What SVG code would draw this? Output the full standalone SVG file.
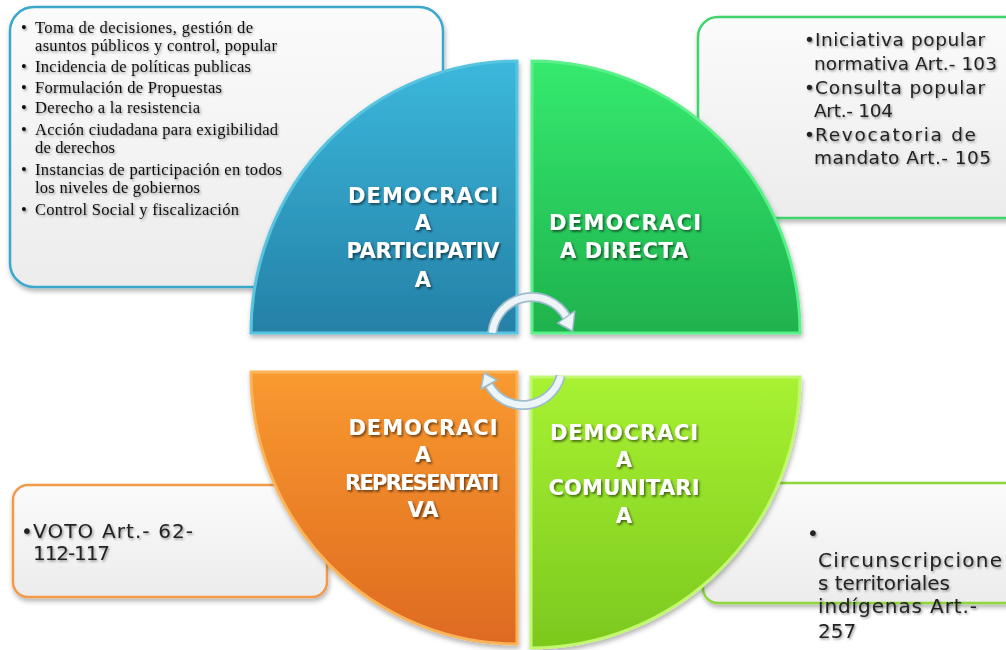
<svg xmlns="http://www.w3.org/2000/svg" width="1006" height="650" viewBox="0 0 1006 650">
<defs>
<linearGradient id="boxg" x1="0" y1="0" x2="0" y2="1"><stop offset="0" stop-color="#fbfbfb"/><stop offset="1" stop-color="#ececec"/></linearGradient>
<linearGradient id="gBlue" x1="0" y1="0" x2="0" y2="1"><stop offset="0" stop-color="#3bb8dc"/><stop offset="1" stop-color="#2580a6"/></linearGradient>
<linearGradient id="gGreen" x1="0" y1="0" x2="0" y2="1"><stop offset="0" stop-color="#35ea6e"/><stop offset="1" stop-color="#1fb24e"/></linearGradient>
<linearGradient id="gOrange" x1="0" y1="0" x2="0" y2="1"><stop offset="0" stop-color="#f99a30"/><stop offset="1" stop-color="#de6a20"/></linearGradient>
<linearGradient id="gLime" x1="0" y1="0" x2="0" y2="1"><stop offset="0" stop-color="#a8f232"/><stop offset="1" stop-color="#7cc81e"/></linearGradient>
<filter id="bs" x="-10%" y="-10%" width="120%" height="130%"><feDropShadow dx="1" dy="3" stdDeviation="2.5" flood-color="#000" flood-opacity="0.3"/></filter>
<filter id="ts" x="-10%" y="-30%" width="120%" height="160%"><feDropShadow dx="1.2" dy="1.5" stdDeviation="0.8" flood-color="#000" flood-opacity="0.4"/></filter>
<filter id="ls" x="-10%" y="-30%" width="120%" height="160%"><feDropShadow dx="1.5" dy="1.8" stdDeviation="1" flood-color="#000" flood-opacity="0.55"/></filter>
<style>
.box{fill:url(#boxg);stroke-width:2.5;filter:url(#bs)}
.serif{font-family:"Liberation Serif","Times New Roman",serif;font-size:16.5px;fill:#111;filter:url(#ts)}
.sans{font-family:"DejaVu Sans","Liberation Sans",sans-serif;font-size:18.5px;fill:#222;filter:url(#ts)}
.sans18{font-family:"DejaVu Sans","Liberation Sans",sans-serif;font-size:20px;fill:#222;filter:url(#ts)}
.lbl{font-family:"DejaVu Sans","Liberation Sans",sans-serif;font-size:21px;font-weight:bold;fill:#fff;text-anchor:middle;filter:url(#ls)}
.q{filter:url(#bs);stroke-width:3}
.arc-o{fill:none;stroke:#9fbccc;stroke-width:10;stroke-linecap:butt}
.arc-i{fill:none;stroke:#eef5f9;stroke-width:6.5;stroke-linecap:butt}
.head{fill:#eef5f9;stroke:#9fbccc;stroke-width:1.5;stroke-linejoin:round}
</style>
</defs>
<rect width="1006" height="650" fill="#fff"/>

<g id="box-participativa">
<rect class="box" x="10" y="7" width="433" height="280" rx="24" stroke="#3ba7cc"/>
<g class="serif">
<text x="21" y="33">•</text><text x="35" y="33" textLength="218" lengthAdjust="spacing">Toma de decisiones, gestión de</text>
<text x="35" y="51" textLength="242" lengthAdjust="spacing">asuntos públicos y control, popular</text>
<text x="21" y="72">•</text><text x="35" y="72" textLength="216" lengthAdjust="spacing">Incidencia de políticas publicas</text>
<text x="21" y="93">•</text><text x="35" y="93" textLength="187" lengthAdjust="spacing">Formulación de Propuestas</text>
<text x="21" y="113">•</text><text x="35" y="113" textLength="165" lengthAdjust="spacing">Derecho a la resistencia</text>
<text x="21" y="135">•</text><text x="35" y="135" textLength="243" lengthAdjust="spacing">Acción ciudadana para exigibilidad</text>
<text x="35" y="153" textLength="80" lengthAdjust="spacing">de derechos</text>
<text x="21" y="175">•</text><text x="35" y="175" textLength="247" lengthAdjust="spacing">Instancias de participación en todos</text>
<text x="35" y="193" textLength="165" lengthAdjust="spacing">los niveles de gobiernos</text>
<text x="21" y="215">•</text><text x="35" y="215" textLength="204" lengthAdjust="spacing">Control Social y fiscalización</text>
</g>
</g>

<g id="box-directa">
<rect class="box" x="698" y="17" width="330" height="201" rx="20" stroke="#3fd46c"/>
<g class="sans">
<text x="804" y="46">•</text><text x="815" y="46" textLength="170" lengthAdjust="spacing">Iniciativa popular</text>
<text x="814" y="70" textLength="183" lengthAdjust="spacing">normativa Art.- 103</text>
<text x="804" y="94">•</text><text x="815" y="94" textLength="170" lengthAdjust="spacing">Consulta popular</text>
<text x="814" y="117" textLength="79" lengthAdjust="spacing">Art.- 104</text>
<text x="804" y="141">•</text><text x="815" y="141" textLength="161" lengthAdjust="spacing">Revocatoria de</text>
<text x="814" y="164" textLength="177" lengthAdjust="spacing">mandato Art.- 105</text>
</g>
</g>

<g id="box-representativa">
<rect class="box" x="13" y="485" width="314" height="112" rx="15" stroke="#f29a48"/>
<g class="sans18">
<text x="21" y="538">•</text><text x="33" y="538" textLength="160" lengthAdjust="spacing">VOTO Art.- 62-</text>
<text x="33" y="560" textLength="77" lengthAdjust="spacing">112-117</text>
</g>
</g>

<g id="box-comunitaria">
<rect class="box" x="703" y="483" width="330" height="120" rx="15" stroke="#8ed83a"/>
</g>

<g id="node-participativa">
<path class="q" d="M517,333 H251 A266,272 0 0 1 517,61 Z" fill="url(#gBlue)" stroke="#58c4e0"/>
<g class="lbl">
<text x="423" y="203" textLength="150" lengthAdjust="spacing">DEMOCRACI</text>
<text x="423" y="230">A</text>
<text x="423" y="258" textLength="153" lengthAdjust="spacing">PARTICIPATIV</text>
<text x="423" y="287">A</text>
</g>
</g>

<g id="node-directa">
<path class="q" d="M532,333 V61 A268,272 0 0 1 800,333 Z" fill="url(#gGreen)" stroke="#5cf08a"/>
<g class="lbl">
<text x="625" y="230" textLength="152" lengthAdjust="spacing">DEMOCRACI</text>
<text x="624" y="258" textLength="128" lengthAdjust="spacing">A DIRECTA</text>
</g>
</g>

<g id="node-representativa">
<path class="q" d="M517,372 H251 A266,272 0 0 0 517,644 Z" fill="url(#gOrange)" stroke="#fbb45a"/>
<g class="lbl">
<text x="423" y="435" textLength="149" lengthAdjust="spacing">DEMOCRACI</text>
<text x="423" y="462">A</text>
<text x="422" y="490" textLength="154" lengthAdjust="spacing">REPRESENTATI</text>
<text x="423" y="517">VA</text>
</g>
</g>

<g id="node-comunitaria">
<path class="q" d="M531,377 V648 A269,271 0 0 0 800,377 Z" fill="url(#gLime)" stroke="#c2f870"/>
<g class="lbl">
<text x="624" y="440" textLength="148" lengthAdjust="spacing">DEMOCRACI</text>
<text x="624" y="467">A</text>
<text x="624" y="495" textLength="151" lengthAdjust="spacing">COMUNITARI</text>
<text x="624" y="523">A</text>
</g>
</g>

<g id="box-comunitaria-text" class="sans18">
<text x="807" y="540">•</text>
<text x="818" y="567" textLength="184" lengthAdjust="spacing">Circunscripcione</text>
<text x="818" y="590" textLength="132" lengthAdjust="spacing">s territoriales</text>
<text x="818" y="613" textLength="159" lengthAdjust="spacing">indígenas Art.-</text>
<text x="818" y="638">257</text>
</g>

<g id="connectors">
<path class="arc-o" d="M492.2,332.8 A40,40 0 0 1 566.6,317"/>
<path class="arc-i" d="M492.2,332.8 A40,40 0 0 1 566.6,317"/>
<polygon class="head" points="574.8,311 557.8,323 572.5,331"/>
<path class="arc-o" d="M560.7,376 A39,39 0 0 1 489.2,385.5"/>
<path class="arc-i" d="M560.7,376 A39,39 0 0 1 489.2,385.5"/>
<polygon class="head" points="481,389 497,380 484,373"/>
</g>
</svg>
